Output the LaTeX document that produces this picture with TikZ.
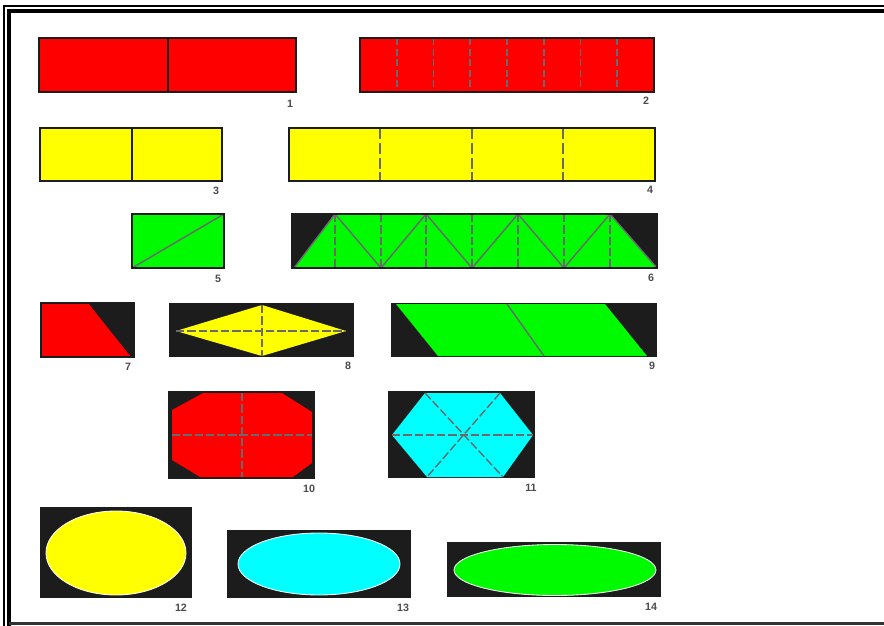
\documentclass[tikz,border=0pt]{standalone}
\usepackage{fontspec}
\setmainfont{Liberation Sans}
\definecolor{cred}{RGB}{255,0,0}
\definecolor{cyel}{RGB}{255,255,0}
\definecolor{cgrn}{RGB}{0,250,0}
\definecolor{ccyan}{RGB}{0,255,255}
\definecolor{cblk}{RGB}{28,28,28}
\definecolor{cline}{RGB}{105,105,110}
\begin{document}
\begin{tikzpicture}[x=0.025cm,y=-0.025cm,
  box/.style={draw=cblk,line width=1.4pt},
  blk/.style={fill=cblk},
  div/.style={draw=cline,line width=1pt},
  dsh/.style={draw=cline,line width=1pt,dash pattern=on 6pt off 2pt},
  num/.style={font=\fontsize{7.6}{8}\selectfont\bfseries,text=black!70,inner sep=0pt}]
\useasboundingbox (0,0) rectangle (884,626);
\fill[white] (0,0) rectangle (884,626);
% frame
\draw[black,line width=0.8pt] (4,626) -- (4,6) -- (884,6);
\draw[black,line width=3pt] (9,626) -- (9,11) -- (884,11);
\draw[black!80,line width=2.2pt] (9,623.5) -- (884,623.5);
% 1
\fill[cred] (39,38) rectangle (296,92);
\draw[box] (39,38) rectangle (296,92);
\draw[box] (168,38) -- (168,92);
\node[num] (n1) at (290,104) {1};
% 2
\fill[cred] (360,38) rectangle (654,92);
\foreach \i in {1,...,7}{\draw[dsh,line width=1.2pt,dash pattern=on 5pt off 2.5pt] ({360+\i*36.75},38) -- ({360+\i*36.75},92);}
\draw[box] (360,38) rectangle (654,92);
\node[num] (n2) at (646,101) {2};
% 3
\fill[cyel] (40,128) rectangle (222,181);
\draw[box] (40,128) rectangle (222,181);
\draw[box] (132,128) -- (132,181);
\node[num] (n3) at (216,191) {3};
% 4
\fill[cyel] (289,128) rectangle (655,181);
\foreach \x in {380,472,563}{\draw[dsh,dash pattern=on 8pt off 2.5pt] (\x,128) -- (\x,181);}
\draw[box] (289,128) rectangle (655,181);
\node[num] (n4) at (650,190) {4};
% 5
\fill[cgrn] (132,214) rectangle (224,268);
\draw[div] (132,268) -- (224,214);
\draw[box] (132,214) rectangle (224,268);
\node[num] (n5) at (218,279) {5};
% 6
\fill[cblk] (292,214) rectangle (657,268);
\fill[cgrn] (294,268) -- (335,214) -- (610,214) -- (657,268) -- cycle;
\foreach \x in {335,381,426,472,518,564,610}{\draw[dsh] (\x,214) -- (\x,268);}
\draw[div] (294,268) -- (335,214) -- (381,268) -- (426,214) -- (472,268) -- (518,214) -- (564,268) -- (610,214) -- (657,268);
\draw[box] (292,214) rectangle (657,268);
\node[num] (n6) at (651,278) {6};
% 7
\fill[cblk] (41,303) rectangle (134,357);
\fill[cred] (41,303) -- (88,303) -- (131,357) -- (41,357) -- cycle;
\draw[box] (41,303) rectangle (134,357);
\node[num] (n7) at (128,367) {7};
% 8
\fill[cblk] (169,303) rectangle (354,357);
\fill[cyel] (176,331) -- (262,305) -- (346,331) -- (262,356) -- cycle;
\draw[dsh] (176,331) -- (346,331);
\draw[dsh] (262,305) -- (262,356);
\node[num] (n8) at (348,366) {8};
% 9
\fill[cblk] (391,303) rectangle (657,357);
\fill[cgrn] (396,304) -- (605,304) -- (647,356) -- (438,356) -- cycle;
\draw[div] (507,304) -- (544,356);
\node[num] (n9) at (652,366) {9};
% 10
\fill[cblk] (168,391) rectangle (315,479);
\fill[cred] (203,393) -- (282,393) -- (312,412) -- (312,463) -- (293,477) -- (200,477) -- (172,460) -- (172,410) -- cycle;
\draw[dsh] (242,393) -- (242,477);
\draw[dsh] (172,435) -- (312,435);
\node[num] (n10) at (309,489) {10};
% 11
\fill[cblk] (388,391) rectangle (535,478);
\fill[ccyan] (392,435) -- (425,393) -- (500,393) -- (533,435) -- (503,477) -- (427,477) -- cycle;
\draw[dsh] (392,435) -- (533,435);
\draw[dsh] (425,393) -- (503,477);
\draw[dsh] (500,393) -- (427,477);
\node[num] (n11) at (531,488) {11};
% 12
\fill[cblk] (40,507) rectangle (192,598);
\filldraw[fill=cyel,draw=white,line width=0.6pt] (116,553) ellipse [x radius=70,y radius=42];
\node[num] (n12) at (181,608) {12};
% 13
\fill[cblk] (227,530) rectangle (411,598);
\filldraw[fill=ccyan,draw=white,line width=0.6pt] (319,564) ellipse [x radius=81,y radius=31];
\node[num] (n13) at (403,608) {13};
% 14
\fill[cblk] (447,542) rectangle (661,597);
\filldraw[fill=cgrn,draw=white,line width=0.6pt] (555,570) ellipse [x radius=101,y radius=25.5];
\node[num] (n14) at (651,607) {14};
\end{tikzpicture}
\end{document}
